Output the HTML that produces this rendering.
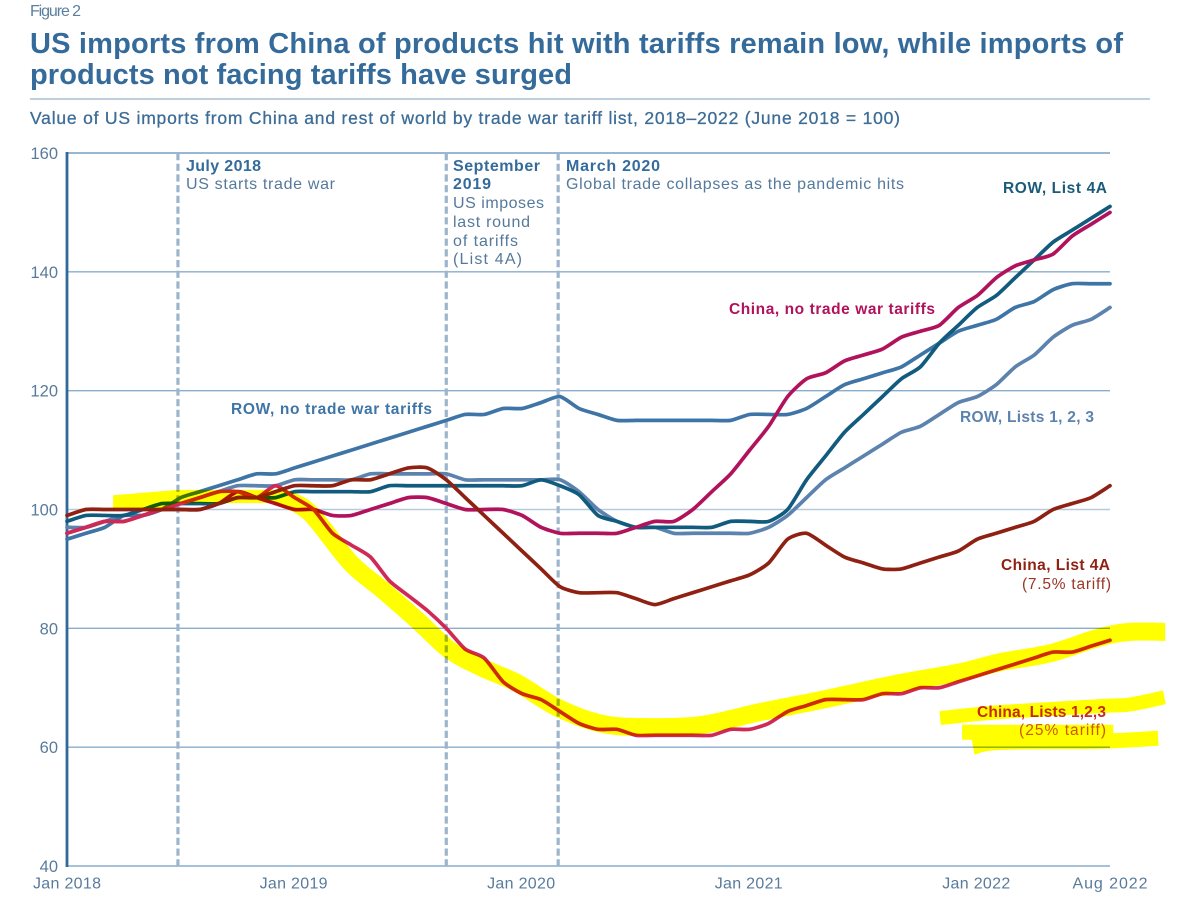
<!DOCTYPE html>
<html lang="en">
<head>
<meta charset="utf-8">
<title>US imports from China by tariff list</title>
<style>
  html, body { margin: 0; padding: 0; background: #fff; }
  svg { display: block; font-family: "Liberation Sans", sans-serif; }
</style>
</head>
<body>
<svg id="chart" xmlns="http://www.w3.org/2000/svg" width="1200" height="910" viewBox="0 0 1200 910">
  <rect x="0" y="0" width="1200" height="910" fill="#ffffff"/>

  <text x="30" y="16" font-size="16" fill="#5b7f9f" textLength="51" lengthAdjust="spacing">Figure 2</text>
  <text x="30" y="53" font-size="29" font-weight="700" fill="#356b9b" textLength="1093" lengthAdjust="spacing">US imports from China of products hit with tariffs remain low, while imports of</text>
  <text x="30" y="84" font-size="29" font-weight="700" fill="#356b9b" textLength="542" lengthAdjust="spacing">products not facing tariffs have surged</text>
  <line x1="30" y1="99" x2="1150" y2="99" stroke="#a8bed2" stroke-width="1.5"/>
  <text x="30" y="124" font-size="17.5" fill="#3d6d97" stroke="#3d6d97" stroke-width="0.3" textLength="870" lengthAdjust="spacing">Value of US imports from China and rest of world by trade war tariff list, 2018–2022 (June 2018 = 100)</text>

  <g id="grid"></g>
  <g id="events"></g>
  <g id="yaxis"></g>
  <g id="xaxis"></g>

  <g font-size="16" fill="#55799b">
    <text x="186" y="171" font-weight="700" fill="#356b9b" textLength="75" lengthAdjust="spacing">July 2018</text>
    <text x="186" y="189" textLength="149" lengthAdjust="spacing">US starts trade war</text>
    <text x="453" y="171" font-weight="700" fill="#356b9b" textLength="87" lengthAdjust="spacing">September</text>
    <text x="453" y="189" font-weight="700" fill="#356b9b" textLength="38" lengthAdjust="spacing">2019</text>
    <text x="453" y="208" textLength="91" lengthAdjust="spacing">US imposes</text>
    <text x="453" y="227" textLength="77" lengthAdjust="spacing">last round</text>
    <text x="453" y="246" textLength="65" lengthAdjust="spacing">of tariffs</text>
    <text x="453" y="264" textLength="69" lengthAdjust="spacing">(List 4A)</text>
    <text x="566" y="171" font-weight="700" fill="#356b9b" textLength="94" lengthAdjust="spacing">March 2020</text>
    <text x="566" y="189" textLength="338" lengthAdjust="spacing">Global trade collapses as the pandemic hits</text>
  </g>

  <g id="series"></g>

  <g font-size="15.5" font-weight="700">
    <text x="1003" y="193" fill="#1c5a7a" textLength="104" lengthAdjust="spacing">ROW, List 4A</text>
    <text x="729" y="314" fill="#b1125c" textLength="206" lengthAdjust="spacing">China, no trade war tariffs</text>
    <text x="231" y="414" fill="#3f75a6" textLength="201" lengthAdjust="spacing">ROW, no trade war tariffs</text>
    <text x="960" y="422" fill="#5c83ae" textLength="134" lengthAdjust="spacing">ROW, Lists 1, 2, 3</text>
    <text x="1001" y="570" fill="#8f2113" textLength="109" lengthAdjust="spacing">China, List 4A</text>
    <text x="1022" y="589" fill="#9a3526" font-weight="400" textLength="89" lengthAdjust="spacing">(7.5% tariff)</text>
    <text x="977" y="717" fill="#c92a2f" textLength="129" lengthAdjust="spacing">China, Lists 1,2,3</text>
    <text x="1019" y="735" fill="#cf5a2a" font-weight="400" textLength="87" lengthAdjust="spacing">(25% tariff)</text>
  </g>

  <g id="highlight" style="mix-blend-mode:multiply"></g>
</svg>

<script>
// ---- Data ----
var yTickValues = [40, 60, 80, 100, 120, 140, 160];
var xTickLabels = ["Jan 2018", "Jan 2019", "Jan 2020", "Jan 2021", "Jan 2022", "Aug 2022"];
var xTickMonths = [0, 12, 24, 36, 48, 55];
var eventMonths = [5.85, 20, 25.9];
var eventNames = ["july-2018", "september-2019", "march-2020"];

var rowNoTariffs = [95,96,97,99,99,100,102,103,104,105,
  106,106,107,108,109,110,111,112,113,114,
  115,116,116,117,117,118,119,117,116,115,
  115,115,115,115,115,115,116,116,116,117,
  119,121,122,123,124,126,128,130,131,132,
  134,135,137,138,138,138];
var rowLists123 = [97,97,98,99,99,100,101,102,103,104,
  104,104,105,105,105,105,106,106,106,106,
  106,105,105,105,105,105,105,103,100,98,
  97,97,96,96,96,96,96,97,99,102,
  105,107,109,111,113,114,116,118,119,121,
  124,126,129,131,132,134];
var rowList4A = [98,99,99,99,100,101,101,101,101,102,
  102,102,103,103,103,103,103,104,104,104,
  104,104,104,104,104,105,104,102.5,99,98,
  97,97,97,97,97,98,98,98,100,105,
  109,113,116,119,122,124,128,131,134,136,
  139,142,145,147,149,151];
var chinaNoTariffs = [96,97,98,98,99,100,100,100,101,103,
  102,101,100,100,99,99,100,101,102,102,
  101,100,100,100,99,97,96,96,96,96,
  97,98,98,100,103,106,110,114,119,122,
  123,125,126,127,129,130,131,134,136,139,
  141,142,143,146,148,150];
var chinaLists123 = [96,97,98,98,99,100,101,102,103,103,
  102,104,102,100,96,94,92,88,85.5,83,
  80,76.5,75,71,69,68,66,64,63,63,
  62,62,62,62,62,63,63,64,66,67,
  68,68,68,69,69,70,70,71,72,73,
  74,75,76,76,77,78];
var chinaList4A = [99,100,100,100,100,100,100,100,101,102,
  102,103,104,104,104,105,105,106,107,107,
  105,102,99,96,93,90,87,86,86,86,
  85,84,85,86,87,88,89,91,95,96,
  94,92,91,90,90,91,92,93,95,96,
  97,98,100,101,102,104];

// Highlighter annotation, in [month, index value] space
var highlightMain = [[11.0,102.2],[11.4,101.9],[12.82,99.4],[14.93,91.1],[16.67,86.4],[18.46,81.4],[20.2,76.3],[21.94,73.3],[23.73,70.8],[25.9,66.6],[28.11,64.0],[30.22,63.4],[33.39,63.7],[36.55,65.9],[39.72,67.9],[43.94,70.8],[47.1,72.6],[49.21,74.3],[51.85,75.8],[54.48,78.5],[56.07,79.4],[57.91,79.4]];
var highlightWedge = [[2.43,102.4],[5.85,103.3],[11.23,103.3],[11.5,101.1],[5.85,101.1],[5.17,100.2],[2.43,100.2]];
var highlightLabelTop = [[46.04,64.9],[49.21,65.9],[54.48,66.9],[56.07,67.2],[57.87,68.4]];
var highlightLabelMid = [[47.2,62.5],[55.17,62.5]];
var highlightLabelLow = [[47.78,60],[49.21,60.8],[54.48,61],[57.54,61.5]];

// ---- Axis functions ----
var PLOT_LEFT = 67, PLOT_RIGHT = 1110, PLOT_TOP = 153, PLOT_BOTTOM = 866;
var MONTH_MAX = 55, Y_MIN = 40, Y_MAX = 160;
function xScale(m) { return PLOT_LEFT + (PLOT_RIGHT - PLOT_LEFT) * m / MONTH_MAX; }
function yScale(v) { return PLOT_BOTTOM - (PLOT_BOTTOM - PLOT_TOP) * (v - Y_MIN) / (Y_MAX - Y_MIN); }

var NS = "http://www.w3.org/2000/svg";
function curveThrough(pts, t) {
  var d = "M" + pts[0][0].toFixed(2) + " " + pts[0][1].toFixed(2);
  for (var j = 0; j < pts.length - 1; j++) {
    var p0 = pts[Math.max(j - 1, 0)], p1 = pts[j], p2 = pts[j + 1], p3 = pts[Math.min(j + 2, pts.length - 1)];
    d += " C" + (p1[0] + (p2[0] - p0[0]) / t).toFixed(2) + " " + (p1[1] + (p2[1] - p0[1]) / t).toFixed(2) +
         " " + (p2[0] - (p3[0] - p1[0]) / t).toFixed(2) + " " + (p2[1] - (p3[1] - p1[1]) / t).toFixed(2) +
         " " + p2[0].toFixed(2) + " " + p2[1].toFixed(2);
  }
  return d;
}
function smoothPath(values) {
  var pts = [];
  for (var i = 0; i < values.length; i++) pts.push([xScale(i), yScale(values[i])]);
  return curveThrough(pts, 9);
}
function pairsCurve(pairs) {
  var pts = [];
  for (var i = 0; i < pairs.length; i++) pts.push([xScale(pairs[i][0]), yScale(pairs[i][1])]);
  return curveThrough(pts, 6);
}
function pairsPolygon(pairs) {
  var d = "";
  for (var i = 0; i < pairs.length; i++) {
    d += (i ? " L" : "M") + xScale(pairs[i][0]).toFixed(2) + " " + yScale(pairs[i][1]).toFixed(2);
  }
  return d + " Z";
}

// Gridlines and y tick labels
var gridG = document.getElementById("grid");
var yG = document.getElementById("yaxis");
yTickValues.forEach(function (v) {
  var line = document.createElementNS(NS, "line");
  
  
  line.setAttribute("x1", PLOT_LEFT);
  line.setAttribute("x2", PLOT_RIGHT);
  line.setAttribute("y1", yScale(v));
  line.setAttribute("y2", yScale(v));
  line.setAttribute("stroke", v === 100 ? "#b7c9da" : "#8aadcc");
  line.setAttribute("stroke-width", v === 160 ? 1.8 : 1.4);
  gridG.appendChild(line);

  var label = document.createElementNS(NS, "text");
  
  
  label.setAttribute("x", 58);
  label.setAttribute("y", yScale(v) + 6);
  label.setAttribute("text-anchor", "end");
  label.setAttribute("font-size", "16.5");
  label.setAttribute("fill", "#587b9c");
  label.textContent = String(v);
  yG.appendChild(label);
});

// Event markers
var evG = document.getElementById("events");
eventMonths.forEach(function (m, i) {
  var line = document.createElementNS(NS, "line");
  
  
  line.setAttribute("x1", xScale(m));
  line.setAttribute("x2", xScale(m));
  line.setAttribute("y1", PLOT_TOP);
  line.setAttribute("y2", PLOT_BOTTOM);
  line.setAttribute("stroke", "#9db5cc");
  line.setAttribute("stroke-width", "3.2");
  line.setAttribute("stroke-dasharray", "7.2 3.5");
  evG.appendChild(line);
});

// Y axis line
var axisLine = document.createElementNS(NS, "line");


axisLine.setAttribute("x1", PLOT_LEFT);
axisLine.setAttribute("x2", PLOT_LEFT);
axisLine.setAttribute("y1", PLOT_TOP - 1);
axisLine.setAttribute("y2", PLOT_BOTTOM + 1);
axisLine.setAttribute("stroke", "#2f6a9b");
axisLine.setAttribute("stroke-width", "2.8");
yG.appendChild(axisLine);

// X tick labels
var xG = document.getElementById("xaxis");
xTickLabels.forEach(function (t, i) {
  var label = document.createElementNS(NS, "text");
  
  
  label.setAttribute("x", xScale(xTickMonths[i]) - (i > 0 && i < 5 ? 1 : 0));
  label.setAttribute("y", 888.5);
  label.setAttribute("text-anchor", "middle");
  label.setAttribute("font-size", "16");
  label.setAttribute("fill", "#587b9c");
  label.setAttribute("textLength", i === 5 ? "75" : "68");
  label.setAttribute("lengthAdjust", "spacing");
  label.textContent = t;
  xG.appendChild(label);
});

// Series lines
var seriesList = [
  { name: "row-lists-123-line", values: rowLists123, color: "#5c83ae" },
  { name: "row-no-tariffs-line", values: rowNoTariffs, color: "#3f75a6" },
  { name: "row-list-4a-line", values: rowList4A, color: "#115b7e" },
  { name: "china-no-tariffs-line", values: chinaNoTariffs, color: "#b1125c" },
  { name: "china-lists-123-line", values: chinaLists123, color: "#cf2a57" },
  { name: "china-list-4a-line", values: chinaList4A, color: "#8f2113" }
];
var sG = document.getElementById("series");
seriesList.forEach(function (s) {
  var path = document.createElementNS(NS, "path");
  
  
  path.setAttribute("d", smoothPath(s.values));
  path.setAttribute("fill", "none");
  path.setAttribute("stroke", s.color);
  path.setAttribute("stroke-width", "3.7");
  path.setAttribute("stroke-linejoin", "round");
  path.setAttribute("stroke-linecap", "round");
  sG.appendChild(path);
});

// Highlighter strokes (multiply blended, so underlying lines tint as in the marker-over-print look)
var hG = document.getElementById("highlight");
var strokes = [
  { name: "highlight-main-stroke", pts: highlightMain, w: 18 },
  { name: "highlight-label-top", pts: highlightLabelTop, w: 14 },
  { name: "highlight-label-middle", pts: highlightLabelMid, w: 15 },
  { name: "highlight-label-low", pts: highlightLabelLow, w: 15 }
];
var wedge = document.createElementNS(NS, "path");


wedge.setAttribute("d", pairsPolygon(highlightWedge));
wedge.setAttribute("fill", "#ffff00");
hG.appendChild(wedge);
strokes.forEach(function (s) {
  var path = document.createElementNS(NS, "path");
  
  
  path.setAttribute("d", pairsCurve(s.pts));
  path.setAttribute("fill", "none");
  path.setAttribute("stroke", "#ffff00");
  path.setAttribute("stroke-width", s.w);
  path.setAttribute("stroke-linejoin", "round");
  path.setAttribute("stroke-linecap", "butt");
  hG.appendChild(path);
});
</script>
</body>
</html>
